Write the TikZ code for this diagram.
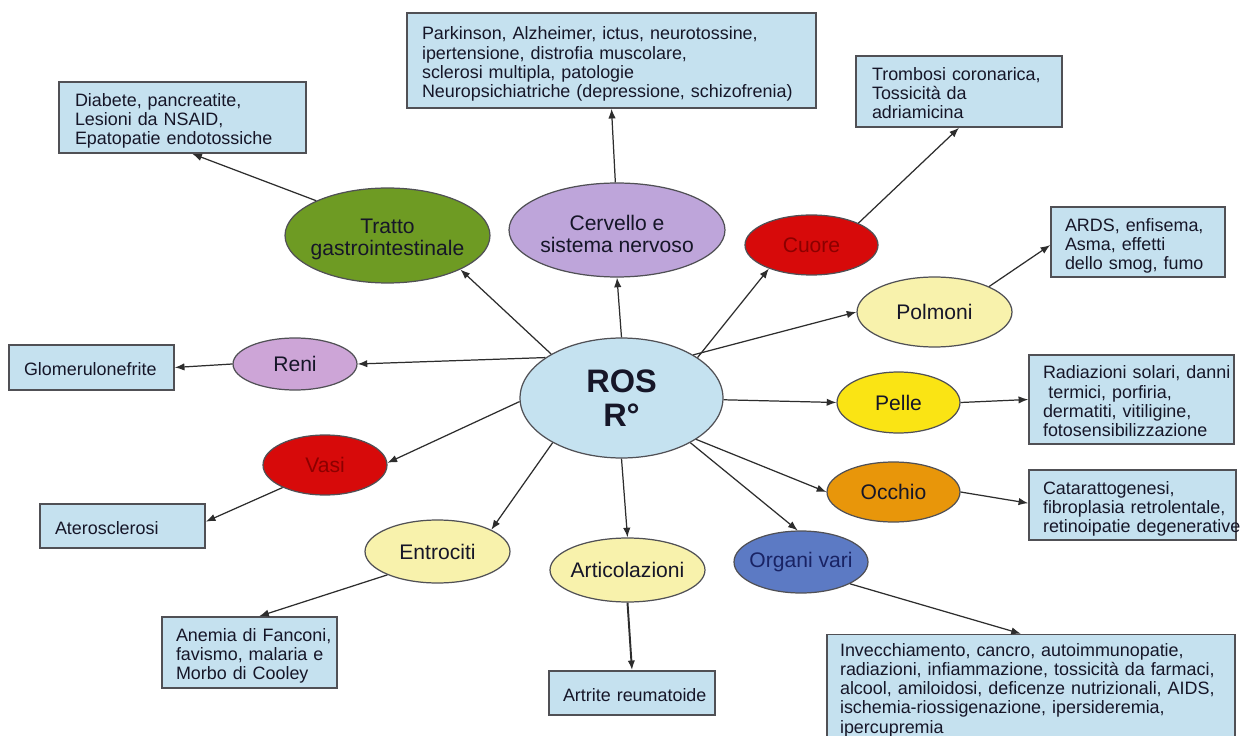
\documentclass[tikz,border=0pt]{standalone}
\usepackage{fontspec}
\setmainfont{Liberation Sans}
\usetikzlibrary{arrows.meta,shapes.geometric}
\definecolor{boxc}{RGB}{197,225,239}
\definecolor{bordc}{RGB}{80,80,85}
\definecolor{linec}{RGB}{45,45,45}
\definecolor{txtc}{RGB}{22,22,40}
\definecolor{rosc}{RGB}{197,226,240}
\definecolor{gic}{RGB}{110,155,35}
\definecolor{cervc}{RGB}{190,165,218}
\definecolor{redc}{RGB}{215,10,10}
\definecolor{paley}{RGB}{248,242,172}
\definecolor{renic}{RGB}{205,165,215}
\definecolor{pellec}{RGB}{250,228,20}
\definecolor{occc}{RGB}{232,150,10}
\definecolor{orgc}{RGB}{92,122,196}
\definecolor{darkred}{RGB}{140,0,0}
\definecolor{darkblue}{RGB}{25,35,100}
\newcommand\boxlines[1]{\begin{tabular}{@{}l@{}}\rule{0pt}{12.6pt}#1\end{tabular}}
\newcommand\plainlines[1]{\begin{tabular}{@{}l@{}}#1\end{tabular}}
\tikzset{
  bx/.style={rectangle, draw=bordc, fill=boxc, line width=0.9pt, align=left,
    text=txtc, font=\fontsize{10.2}{10.9}\selectfont, inner ysep=0pt},
  org/.style={ellipse, draw=bordc, line width=0.7pt, inner sep=0pt},
  etext/.style={align=center, text=txtc, font=\fontsize{12}{12.6}\selectfont},
  arr/.style={-{Latex[length=5.5pt,width=4.2pt]}, draw=linec, line width=0.7pt}
}
\begin{document}
\begin{tikzpicture}[x=0.02cm,y=-0.02cm]
\clip (0,0) rectangle (1240,736);
\fill[white] (0,0) rectangle (1240,736);

% boxes
\node[bx, minimum width=8.18cm, minimum height=1.9cm, inner xsep=0.3cm, text width=7.58cm] (brainbox) at (611.5,60.5)
  {\boxlines{Parkinson, Alzheimer, ictus, neurotossine,\\ipertensione, distrofia muscolare,\\sclerosi multipla, patologie\\Neuropsichiatriche (depressione, schizofrenia)}};
\node[bx, minimum width=4.94cm, minimum height=1.42cm, inner xsep=0.32cm, text width=4.3cm] (gibox) at (182.5,117.5)
  {\boxlines{Diabete, pancreatite,\\Lesioni da NSAID,\\Epatopatie endotossiche}};
\node[bx, minimum width=4.12cm, minimum height=1.42cm, inner xsep=0.32cm, text width=3.48cm] (cuorebox) at (959,91.5)
  {\boxlines{Trombosi coronarica,\\Tossicità da\\adriamicina}};
\node[bx, minimum width=3.48cm, minimum height=1.4cm, inner xsep=0.28cm, text width=2.92cm] (polbox) at (1138,242)
  {\boxlines{ARDS, enfisema,\\Asma, effetti\\dello smog, fumo}};
\node[bx, minimum width=4.1cm, minimum height=1.78cm, inner xsep=0.28cm, text width=3.54cm] (pellebox) at (1131.5,399.5)
  {\boxlines{Radiazioni solari, danni\\\hspace*{0.3em}termici, porfiria,\\dermatiti, vitiligine,\\fotosensibilizzazione}};
\node[bx, minimum width=4.14cm, minimum height=1.4cm, inner xsep=0.28cm, text width=3.58cm] (occbox) at (1132.5,505)
  {\boxlines{Catarattogenesi,\\fibroplasia retrolentale,\\retinoipatie degenerative}};
\node[bx, minimum width=8.16cm, minimum height=2.26cm, inner xsep=0.26cm, text width=7.64cm] (orgbox) at (1031,691)
  {\plainlines{Invecchiamento, cancro, autoimmunopatie,\\radiazioni, infiammazione, tossicità da farmaci,\\alcool, amiloidosi, deficenze nutrizionali, AIDS,\\ischemia-riossigenazione, ipersideremia,\\ipercupremia}};
\node[bx, minimum width=3.32cm, minimum height=0.88cm, inner xsep=0.28cm, text width=2.76cm] (artbox) at (632,693)
  {\boxlines{Artrite reumatoide}};
\node[bx, minimum width=3.5cm, minimum height=1.42cm, inner xsep=0.28cm, text width=2.94cm] (anbox) at (249.5,652.5)
  {\boxlines{Anemia di Fanconi,\\favismo, malaria e\\Morbo di Cooley}};
\node[bx, minimum width=3.3cm, minimum height=0.88cm, inner xsep=0.3cm, text width=2.7cm] (atbox) at (122.5,526)
  {\boxlines{Aterosclerosi}};
\node[bx, minimum width=3.3cm, minimum height=0.9cm, inner xsep=0.3cm, text width=2.7cm] (glbox) at (91.5,367.5)
  {\boxlines{Glomerulonefrite}};

% ellipses
\node[org, fill=rosc, minimum width=4.06cm, minimum height=2.4cm,
  font=\bfseries\fontsize{18.5}{19.5}\selectfont, align=center, text=txtc] (ros) at (621.5,398) {ROS\\R°};
\node[org, fill=gic, minimum width=4.1cm, minimum height=1.9cm,
  label={[etext, name=trattot, yshift=-0.08cm]center:{Tratto\\gastrointestinale}}] (tratto) at (387.5,235.5) {};
\node[org, fill=cervc, minimum width=4.32cm, minimum height=1.88cm,
  label={[etext, name=cervt, yshift=-0.08cm]center:{Cervello e\\sistema nervoso}}] (cerv) at (617,230) {};
\node[org, fill=redc, minimum width=2.66cm, minimum height=1.2cm,
  label={[etext, text=darkred, name=cuoret]center:{Cuore}}] (cuore) at (811.5,245) {};
\node[org, fill=paley, minimum width=3.1cm, minimum height=1.4cm,
  label={[etext, name=polmt]center:{Polmoni}}] (polm) at (934.5,312) {};
\node[org, fill=renic, minimum width=2.48cm, minimum height=1.04cm,
  label={[etext, name=renit]center:{Reni}}] (reni) at (295,364) {};
\node[org, fill=pellec, minimum width=2.46cm, minimum height=1.22cm,
  label={[etext, name=pellet]center:{Pelle}}] (pelle) at (898.5,402.5) {};
\node[org, fill=redc, minimum width=2.48cm, minimum height=1.2cm,
  label={[etext, text=darkred, name=vasit]center:{Vasi}}] (vasi) at (325,465) {};
\node[org, fill=occc, minimum width=2.66cm, minimum height=1.2cm,
  label={[etext, name=occhiot]center:{Occhio}}] (occhio) at (893.5,492) {};
\node[org, fill=paley, minimum width=2.9cm, minimum height=1.26cm,
  label={[etext, name=entrot]center:{Entrociti}}] (entro) at (437.5,551.5) {};
\node[org, fill=paley, minimum width=3.1cm, minimum height=1.28cm,
  label={[etext, name=artict]center:{Articolazioni}}] (artic) at (627.5,570) {};
\node[org, fill=orgc, minimum width=2.68cm, minimum height=1.24cm,
  label={[etext, text=darkblue, name=organit]center:{Organi vari}}] (organi) at (801,562) {};

% ROS -> organs
\draw[arr] (ros.148) -- (tratto.335);
\draw[arr] (ros.90) -- (cerv.270);
\draw[arr] (ros.28) -- (cuore.209);
\draw[arr] (ros.31) -- (polm.180);
\draw[arr] (ros.152) -- (reni.0);
\draw[arr] (ros.359) -- (pelle.180);
\draw[arr] (ros.182) -- (vasi.2);
\draw[arr] (ros.331) -- (occhio.180);
\draw[arr] (ros.327) -- (organi.96);
\draw[arr] (ros.213) -- (entro.22);
\draw[arr] (ros.270) -- (artic.north);

% organs -> boxes
\draw[arr] (tratto.154) -- (gibox.285);
\draw[arr] (cerv.92) -- (brainbox.south);
\draw[arr] (cuore.25) -- (cuorebox.south);
\draw[arr] (polm.25) -- (polbox.182);
\draw[arr] (reni.west) -- (glbox.east);
\draw[arr] (pelle.east) -- (pellebox.west);
\draw[arr] (vasi.208) -- (atbox.3);
\draw[arr] (occhio.0) -- (occbox.179);
\draw[arr] (entro.205) -- (anbox.75);
\draw[arr, line width=1.1pt] (artic.south) -- (artbox.north);
\draw[arr] (organi.336) -- (orgbox.100);
\end{tikzpicture}
\end{document}
